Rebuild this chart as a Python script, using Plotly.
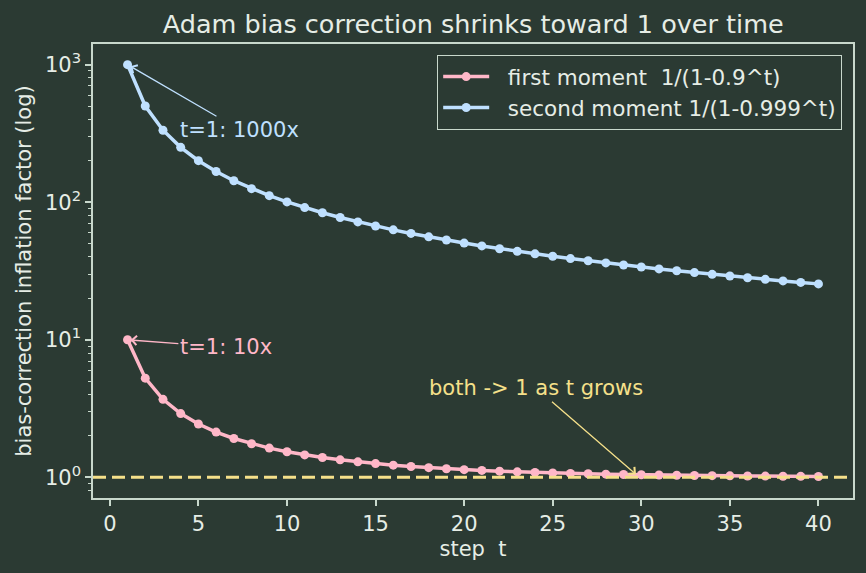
import numpy as np
import plotly.graph_objects as go

steps = list(range(1, 41))
first_moment = [10.0, 5.263, 3.690, 2.908, 2.442, 2.134, 1.917, 1.756, 1.632, 1.535,
                1.457, 1.394, 1.341, 1.297, 1.259, 1.227, 1.200, 1.177, 1.156, 1.138,
                1.123, 1.109, 1.097, 1.087, 1.077, 1.069, 1.062, 1.055, 1.049, 1.044,
                1.040, 1.036, 1.032, 1.029, 1.026, 1.023, 1.021, 1.019, 1.017, 1.015]
second_moment = [1000.0, 500.25, 333.67, 250.38, 200.4, 167.08, 143.29, 125.44, 111.56, 100.45,
                 91.36, 83.79, 77.38, 71.89, 67.13, 62.97, 59.30, 56.03, 53.11, 50.48,
                 48.10, 45.93, 43.96, 42.15, 40.48, 38.94, 37.52, 36.20, 34.97, 33.82,
                 32.74, 31.73, 30.79, 29.90, 29.06, 28.26, 27.51, 26.80, 26.13, 25.49]
series_names = ["\u00a0 first moment\u00a0 1/(1-0.9^t)", "\u00a0 second moment 1/(1-0.999^t)"]
x_ticks = [0, 5, 10, 15, 20, 25, 30, 35, 40]
y_ticks = [1, 10, 100, 1000]
y_ticktext = ["10<sup>0</sup>", "10<sup>1</sup>", "10<sup>2</sup>", "10<sup>3</sup>"]

BG = "#2b3a33"
FG = "#e6ede6"
SPINE = "#c8d8cc"
PINK = "#ffb7c8"
BLUE = "#bfe0ff"
YEL = "#f5e08a"
FONT = "DejaVu Sans"

fig = go.Figure()
fig.add_trace(go.Scatter(x=steps, y=first_moment, name=series_names[0], mode="lines+markers",
                         line=dict(color=PINK, width=3.5), marker=dict(color=PINK, size=9)))
fig.add_trace(go.Scatter(x=steps, y=second_moment, name=series_names[1], mode="lines+markers",
                         line=dict(color=BLUE, width=3.5), marker=dict(color=BLUE, size=9)))

fig.add_shape(type="line", xref="paper", yref="y", x0=0, x1=1, y0=1, y1=1,
              line=dict(color=YEL, width=3, dash="13px,6px"), layer="above")

minor_vals = []
for k in range(-1, 3):
    for m in range(2, 10):
        minor_vals.append(m * 10 ** k)

fig.update_xaxes(range=[-0.95, 41.95], tickvals=x_ticks, showline=True, mirror=True,
                 linecolor=SPINE, linewidth=1.5, ticks="outside", ticklen=6, tickcolor=SPINE,
                 tickwidth=1.5, showgrid=False, zeroline=False,
                 tickfont=dict(family=FONT, size=21, color=FG),
                 title=dict(text="step\u00a0 t", font=dict(family=FONT, size=21, color=FG), standoff=6))
fig.update_yaxes(type="log", range=[-0.15, 3.15], tickvals=y_ticks, ticktext=y_ticktext,
                 showline=True, mirror=True, linecolor=SPINE, linewidth=1.5, ticks="outside",
                 ticklen=6, tickcolor=SPINE, tickwidth=1.5, showgrid=False, zeroline=False,
                 minor=dict(tickvals=minor_vals, ticks="outside", ticklen=3, tickcolor=SPINE,
                            tickwidth=1, showgrid=False),
                 tickfont=dict(family=FONT, size=21, color=FG),
                 title=dict(text="bias-correction inflation factor (log)",
                            font=dict(family=FONT, size=21, color=FG), standoff=8))

fig.add_annotation(x=1, y=np.log10(1000), xref="x", yref="y", ax=7.33, ay=np.log10(336),
                   axref="x", ayref="y", text="t=1: 1000x", showarrow=True, arrowhead=4,
                   arrowsize=1.4, arrowwidth=1.3, arrowcolor=BLUE, standoff=3,
                   font=dict(family=FONT, size=21, color=BLUE))
fig.add_annotation(x=1, y=np.log10(10), xref="x", yref="y", ax=6.55, ay=np.log10(8.85),
                   axref="x", ayref="y", text="t=1: 10x", showarrow=True, arrowhead=4,
                   arrowsize=1.4, arrowwidth=1.3, arrowcolor=PINK, standoff=3,
                   font=dict(family=FONT, size=21, color=PINK))
fig.add_annotation(x=29.7, y=np.log10(1.05), xref="x", yref="y", ax=24.08, ay=np.log10(4.45),
                   axref="x", ayref="y", text="both -> 1 as t grows", showarrow=True, arrowhead=4,
                   arrowsize=1.4, arrowwidth=1.3, arrowcolor=YEL, standoff=0,
                   font=dict(family=FONT, size=21, color=YEL))

fig.update_layout(
    width=866, height=573,
    margin=dict(l=93, r=13, t=44, b=75, autoexpand=False),
    paper_bgcolor=BG, plot_bgcolor=BG,
    title=dict(text="Adam bias correction shrinks toward 1 over time", x=0.5465, xanchor="center",
               y=1 - 24 / 573, yanchor="middle", yref="container",
               font=dict(family=FONT, size=25.5, color=FG)),
    legend=dict(x=0.9855, y=0.976, xanchor="right", yanchor="top", bgcolor=BG,
                bordercolor=SPINE, borderwidth=1.2, font=dict(family=FONT, size=21.5, color=FG),
                itemwidth=46, tracegroupgap=0),
    showlegend=True,
)

fig.write_html("out.html")
